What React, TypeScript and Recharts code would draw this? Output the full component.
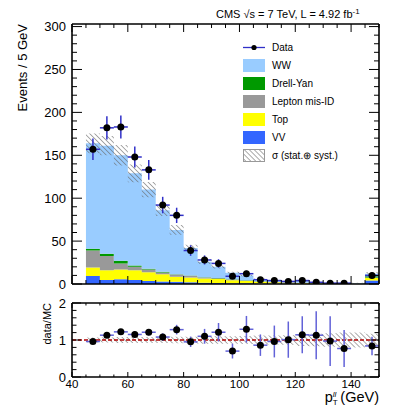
import {
  Area,
  ComposedChart,
  ErrorBar,
  Legend,
  ReferenceLine,
  Scatter,
  XAxis,
  YAxis,
} from "recharts";

// bins are 5 GeV wide, 45 -> 150
const binLow = [45, 50, 55, 60, 65, 70, 75, 80, 85, 90, 95, 100, 105, 110, 115, 120, 125, 130, 135, 140, 145];
const binEnd = 150;

const dataCounts = [157, 182, 183, 148, 133, 92, 80, 39, 28, 24, 9, 12, 5, 4, 3, 4, 2, 1, 1, 0, 10];
const dataErr = [12.5, 13.5, 13.5, 12.2, 11.5, 9.6, 8.9, 6.2, 5.3, 4.9, 3.0, 3.5, 2.2, 2.0, 1.7, 2.0, 1.4, 1.0, 1.0, 0, 3.2];

const vv = [9.2, 4.6, 5.4, 4.6, 3.4, 3.0, 2.5, 2.0, 1.6, 1.3, 1.0, 0.9, 0.7, 0.5, 0.5, 0.4, 0.3, 0.2, 0.2, 0.2, 4.0];
const topQ = [10.0, 11.4, 11.6, 11.4, 10.4, 8.5, 6.0, 5.7, 4.9, 4.4, 3.4, 2.6, 1.9, 1.4, 1.1, 0.9, 0.5, 0.3, 0.3, 0.3, 3.0];
const misId = [19.8, 16.6, 6.8, 4.0, 3.2, 2.0, 2.5, 1.9, 1.2, 1.0, 0.7, 0.6, 0.4, 0.3, 0.3, 0.2, 0.2, 0.1, 0.1, 0.1, 0.5];
const drellYan = [2.0, 2.6, 3.2, 1.5, 0.7, 0.7, 0.5, 0.4, 0.3, 0.3, 0.3, 0.2, 0.2, 0.1, 0.1, 0.1, 0.1, 0.05, 0.05, 0.05, 1.5];
const ww = [123, 126, 123, 107.5, 92.3, 71.8, 51.5, 32, 18, 13, 7.6, 5.7, 2.6, 1.9, 1.0, 1.9, 0.7, 0.35, 0.65, 0.55, 3.0];
const mcRelErr = [0.07, 0.07, 0.08, 0.08, 0.08, 0.08, 0.09, 0.09, 0.1, 0.1, 0.1, 0.11, 0.12, 0.12, 0.13, 0.16, 0.17, 0.18, 0.2, 0.2, 0.17];

const ratio = [0.96, 1.13, 1.22, 1.15, 1.21, 1.08, 1.28, 0.95, 1.1, 1.21, 0.7, 1.29, 0.86, 0.96, 1.01, 1.14, 1.13, 0.97, 0.77, 0, 0.84];
const ratioErr = [0.05, 0.06, 0.07, 0.08, 0.09, 0.1, 0.13, 0.14, 0.2, 0.25, 0.2, 0.36, 0.29, 0.43, 0.49, 0.5, 0.65, 0.67, 0.5, 0, 0.25];

const xTicks = [40, 45, 50, 55, 60, 65, 70, 75, 80, 85, 90, 95, 100, 105, 110, 115, 120, 125, 130, 135, 140, 145, 150];
const yTicks = [0, 10, 20, 30, 40, 50, 60, 70, 80, 90, 100, 110, 120, 130, 140, 150, 160, 170, 180, 190, 200, 210, 220, 230, 240, 250, 260, 270, 280, 290, 300];
const rTicks = [0, 0.2, 0.4, 0.6, 0.8, 1, 1.2, 1.4, 1.6, 1.8, 2];

const colors = {
  ww: "#99ccff",
  dy: "#009900",
  misId: "#999999",
  top: "#ffff00",
  vv: "#3366ff",
  err: "#3030c8",
  errRatio: "#6262d8",
};

const font = "'Liberation Sans', Arial, Helvetica, sans-serif";

const idx = (i: number) => Math.min(i, binLow.length - 1);
const edges = [...binLow, binEnd];

const stackRows = edges.map((x, i) => {
  const k = idx(i);
  const total = vv[k] + topQ[k] + misId[k] + drellYan[k] + ww[k];
  return {
    x,
    vv: vv[k],
    top: topQ[k],
    misId: misId[k],
    dy: drellYan[k],
    ww: ww[k],
    band: [total * (1 - mcRelErr[k]), total * (1 + mcRelErr[k])],
  };
});

const ratioRows = edges.map((x, i) => {
  const k = idx(i);
  return { x, band: [1 - mcRelErr[k], 1 + mcRelErr[k]] };
});

const points = binLow
  .map((lo, i) => ({ x: lo + 2.5, y: dataCounts[i], ey: dataErr[i], ex: 2.5 }))
  .filter((p) => p.y > 0);

const ratioPoints = binLow
  .map((lo, i) => ({ x: lo + 2.5, y: ratio[i], ey: ratioErr[i], ex: 2.5 }))
  .filter((p) => p.y > 0);

type Side = "left" | "right" | "top" | "bottom";

function axisTick(
  side: Side,
  isMajor: (v: number) => boolean,
  majorLen: number,
  minorLen: number,
  label?: (v: number) => string,
  fontSize = 12
) {
  return (props: any) => {
    const { x, y, payload } = props;
    const v = payload.value;
    const major = isMajor(v);
    const len = major ? majorLen : minorLen;
    let x2 = x;
    let y2 = y;
    if (side === "left") x2 = x + len;
    if (side === "right") x2 = x - len;
    if (side === "top") y2 = y + len;
    if (side === "bottom") y2 = y - len;
    let text = null;
    if (major && label) {
      if (side === "left") {
        text = (
          <text x={x - 6} y={y} dy="0.36em" textAnchor="end" fontSize={fontSize} fontFamily={font} fill="#000">
            {label(v)}
          </text>
        );
      } else if (side === "bottom") {
        text = (
          <text x={x} y={y + 11} textAnchor="middle" fontSize={fontSize} fontFamily={font} fill="#000">
            {label(v)}
          </text>
        );
      }
    }
    return (
      <g>
        <line x1={x} y1={y} x2={x2} y2={y2} stroke="#000" strokeWidth={1} />
        {text}
      </g>
    );
  };
}

const frame = { stroke: "#000", strokeWidth: 1.6 };
const major20 = (v: number) => v % 20 === 0 && v <= 140;

function Hatch({ id }: { id: string }) {
  return (
    <pattern id={id} width={3.5} height={3.5} patternUnits="userSpaceOnUse" patternTransform="rotate(-45)">
      <line x1={0} y1={0} x2={0} y2={3.5} stroke="#666" strokeWidth={1.1} />
    </pattern>
  );
}

const legendItems = [
  { name: "Data", kind: "data", color: "" },
  { name: "WW", kind: "box", color: colors.ww },
  { name: "Drell-Yan", kind: "box", color: colors.dy },
  { name: "Lepton mis-ID", kind: "box", color: colors.misId },
  { name: "Top", kind: "box", color: colors.top },
  { name: "VV", kind: "box", color: colors.vv },
  { name: "\u03c3 (stat.\u2295 syst.)", kind: "hatch", color: "" },
];

function LegendBlock() {
  return (
    <div style={{ fontFamily: font, fontSize: 10, color: "#000" }}>
      {legendItems.map((it) => (
        <div key={it.name} style={{ display: "flex", alignItems: "center", height: 18 }}>
          <svg width={22} height={13} style={{ display: "block" }}>
            <defs>
              <Hatch id="hatchLeg" />
            </defs>
            {it.kind === "data" && (
              <g>
                <line x1={0} y1={6.5} x2={22} y2={6.5} stroke={colors.err} strokeWidth={1.3} />
                <circle cx={11} cy={6.5} r={2.6} fill="#000" />
              </g>
            )}
            {it.kind === "box" && <rect x={0} y={0} width={22} height={13} fill={it.color} />}
            {it.kind === "hatch" && (
              <rect x={0.5} y={0.5} width={21} height={12} fill="url(#hatchLeg)" stroke="#999" strokeWidth={1} />
            )}
          </svg>
          <span style={{ marginLeft: 7, whiteSpace: "nowrap" }}>{it.name}</span>
        </div>
      ))}
    </div>
  );
}

const dot = (props: any) => <circle cx={props.cx} cy={props.cy} r={3.5} fill="#000" />;

export default function App() {
  return (
    <div style={{ position: "absolute", left: 0, top: 0, width: 399, height: 415, background: "#fff" }}>
      <div style={{ position: "absolute", left: 0, top: 0 }}>
        <ComposedChart width={399} height={300} data={stackRows} margin={{ top: 0, right: 0, bottom: 0, left: 0 }}>
          <defs>
            <Hatch id="hatchTop" />
          </defs>
          <XAxis
            dataKey="x"
            type="number"
            domain={[40, 150]}
            ticks={xTicks}
            interval={0}
            height={16}
            tickSize={0}
            tickMargin={0}
            axisLine={frame}
            tick={axisTick("bottom", major20, 8, 4)}
            allowDataOverflow
          />
          <XAxis
            xAxisId="top"
            orientation="top"
            dataKey="x"
            type="number"
            domain={[40, 150]}
            ticks={xTicks}
            interval={0}
            height={24}
            tickSize={0}
            tickMargin={0}
            axisLine={frame}
            tick={axisTick("top", major20, 8, 4)}
            allowDataOverflow
          />
          <YAxis
            type="number"
            domain={[0, 303]}
            ticks={yTicks}
            interval={0}
            width={72}
            tickSize={0}
            tickMargin={0}
            axisLine={frame}
            tick={axisTick("left", (v) => v % 50 === 0, 10, 5, (v) => String(v), 13)}
            allowDataOverflow
          />
          <YAxis
            yAxisId="right"
            orientation="right"
            type="number"
            domain={[0, 303]}
            ticks={yTicks}
            interval={0}
            width={20}
            tickSize={0}
            tickMargin={0}
            axisLine={frame}
            tick={axisTick("right", (v) => v % 50 === 0, 10, 5)}
            allowDataOverflow
          />
          <Area type="stepAfter" dataKey="vv" stackId="mc" fill={colors.vv} fillOpacity={1} stroke="none" isAnimationActive={false} />
          <Area type="stepAfter" dataKey="top" stackId="mc" fill={colors.top} fillOpacity={1} stroke="none" isAnimationActive={false} />
          <Area type="stepAfter" dataKey="misId" stackId="mc" fill={colors.misId} fillOpacity={1} stroke="none" isAnimationActive={false} />
          <Area type="stepAfter" dataKey="dy" stackId="mc" fill={colors.dy} fillOpacity={1} stroke="none" isAnimationActive={false} />
          <Area type="stepAfter" dataKey="ww" stackId="mc" fill={colors.ww} fillOpacity={1} stroke="none" isAnimationActive={false} />
          <Area type="stepAfter" dataKey="band" fill="url(#hatchTop)" fillOpacity={1} stroke="none" isAnimationActive={false} />
          <Scatter data={points} dataKey="y" shape={dot} isAnimationActive={false}>
            <ErrorBar dataKey="ey" direction="y" width={0} stroke={colors.err} strokeWidth={1.5} />
            <ErrorBar dataKey="ex" direction="x" width={0} stroke={colors.err} strokeWidth={1.5} />
          </Scatter>
          <Legend
            layout="vertical"
            align="center"
            verticalAlign="middle"
            content={() => <LegendBlock />}
            wrapperStyle={{ left: 243, top: 38, width: 140, height: 130 }}
          />
          <text x={216} y={18} fontSize={11} fontFamily={font} fill="#000">
            CMS {"\u221a"}s = 7 TeV, L = 4.92 fb
            <tspan dy={-4} fontSize={8}>-1</tspan>
          </text>
          <text
            x={27}
            y={24}
            transform="rotate(-90 27 24)"
            textAnchor="end"
            fontSize={13}
            fontFamily={font}
            fill="#000"
          >
            Events / 5 GeV
          </text>
        </ComposedChart>
      </div>
      <div style={{ position: "absolute", left: 0, top: 290 }}>
        <ComposedChart width={399} height={125} data={ratioRows} margin={{ top: 0, right: 0, bottom: 0, left: 0 }}>
          <defs>
            <Hatch id="hatchRatio" />
          </defs>
          <XAxis
            dataKey="x"
            type="number"
            domain={[40, 150]}
            ticks={xTicks}
            interval={0}
            height={38}
            tickSize={0}
            tickMargin={0}
            axisLine={frame}
            tick={axisTick("bottom", major20, 5, 2.5, (v) => String(v), 11.5)}
            allowDataOverflow
          />
          <XAxis
            xAxisId="top"
            orientation="top"
            dataKey="x"
            type="number"
            domain={[40, 150]}
            ticks={xTicks}
            interval={0}
            height={13}
            tickSize={0}
            tickMargin={0}
            axisLine={frame}
            tick={axisTick("top", major20, 5, 2.5)}
            allowDataOverflow
          />
          <YAxis
            type="number"
            domain={[0, 2]}
            ticks={rTicks}
            interval={0}
            width={72}
            tickSize={0}
            tickMargin={0}
            axisLine={frame}
            tick={axisTick("left", (v) => Number.isInteger(v), 9, 4.5, (v) => String(v), 13)}
            allowDataOverflow
          />
          <YAxis
            yAxisId="right"
            orientation="right"
            type="number"
            domain={[0, 2]}
            ticks={rTicks}
            interval={0}
            width={20}
            tickSize={0}
            tickMargin={0}
            axisLine={frame}
            tick={axisTick("right", (v) => Number.isInteger(v), 9, 4.5)}
            allowDataOverflow
          />
          <Area type="stepAfter" dataKey="band" fill="url(#hatchRatio)" fillOpacity={1} stroke="none" isAnimationActive={false} />
          <ReferenceLine y={1} stroke="#b00000" strokeWidth={1.5} strokeDasharray="4 2" />
          <Scatter data={ratioPoints} dataKey="y" shape={dot} isAnimationActive={false}>
            <ErrorBar dataKey="ey" direction="y" width={0} stroke={colors.errRatio} strokeWidth={1.5} />
            <ErrorBar dataKey="ex" direction="x" width={0} stroke={colors.errRatio} strokeWidth={1.5} />
          </Scatter>
          <text
            x={51}
            y={13}
            transform="rotate(-90 51 13)"
            textAnchor="end"
            fontSize={11}
            fontFamily={font}
            fill="#000"
          >
            data/MC
          </text>
          <text x={379} y={112} textAnchor="end" fontSize={14.5} fontFamily={font} fill="#000">
            p
            <tspan dy={3} fontSize={8}>T</tspan>
            <tspan dx={-5} dy={-8} fontSize={8} fontStyle="italic">ll</tspan>
            <tspan dy={5}> (GeV)</tspan>
          </text>
        </ComposedChart>
      </div>
    </div>
  );
}
